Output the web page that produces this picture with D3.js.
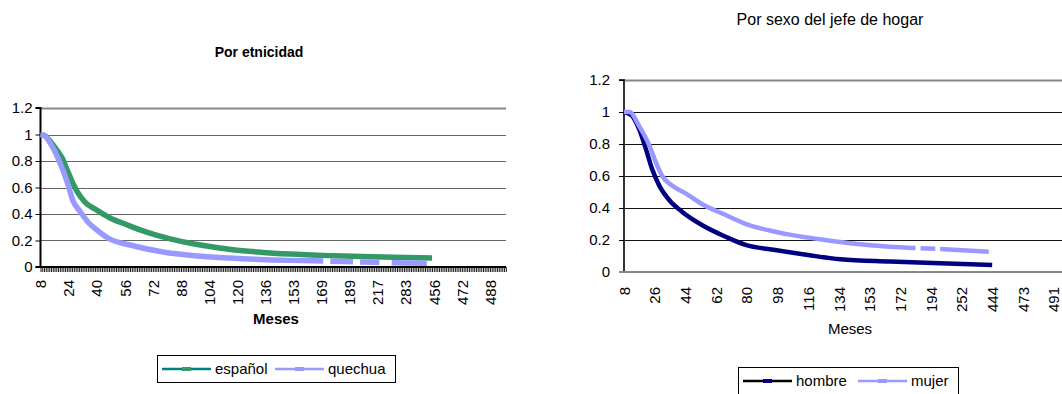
<!DOCTYPE html>
<html><head><meta charset="utf-8">
<script src="https://cdn.jsdelivr.net/npm/d3@7"></script>
<style>
body{margin:0;background:#fff;}
text{font-family:"Liberation Sans",Arial,sans-serif;fill:#000;}
</style></head>
<body><svg id="c" width="1062" height="394"></svg>
<script>
// ---------- data ----------
const yTicks = [0, 0.2, 0.4, 0.6, 0.8, 1, 1.2];
const yTickLabels = ["0", "0.2", "0.4", "0.6", "0.8", "1", "1.2"];

// Chart 1: Por etnicidad (x = category index on the months axis)
const etnTickLabels = ["8","24","40","56","72","88","104","120","136","153","169","189","217","283","456","472","488"];
const etnCatsPerLabel = 16;
const etnCatCount = 265;
const espanolIdx = [0, 2.6, 5.4, 9.4, 12.8, 15, 18.5, 20.8, 25.3, 32, 39.6, 49, 56.7, 66, 79.4, 93.7, 109.6, 125, 142, 166.5, 200.7, 223];
const espanolVal = [1, 0.99, 0.95, 0.88, 0.81, 0.74, 0.63, 0.57, 0.49, 0.43, 0.37, 0.32, 0.28, 0.24, 0.195, 0.16, 0.13, 0.112, 0.098, 0.085, 0.073, 0.068];
const quechuaIdx = [0, 2.6, 4.3, 8.3, 12.8, 15.7, 18.5, 22.5, 27, 32, 39.6, 51, 69.8, 88, 108, 142, 161, 163, 165, 178, 180, 182, 193, 196, 200, 220];
const quechuaVal = [1, 0.99, 0.96, 0.87, 0.73, 0.62, 0.5, 0.42, 0.34, 0.28, 0.21, 0.166, 0.113, 0.085, 0.068, 0.05, 0.045, null, 0.043, 0.04, null, 0.038, 0.035, null, 0.032, 0.028];

// Chart 2: Por sexo del jefe de hogar
const sexTickLabels = ["8","26","44","62","80","98","116","134","153","172","194","252","444","473","491"];
const sexCatsPerLabel = 18;
const sexCatCount = 264;
const hombreIdx = [0, 4.4, 9, 13.1, 16.6, 20.7, 26.5, 34, 45.7, 59.7, 71.3, 88.8, 108, 127, 156, 185.5, 216];
const hombreVal = [1, 0.98, 0.89, 0.76, 0.64, 0.54, 0.45, 0.377, 0.294, 0.22, 0.169, 0.1375, 0.106, 0.079, 0.065, 0.054, 0.044];
const mujerIdx = [0, 3.2, 9, 14.9, 18.9, 22.4, 28.2, 36.4, 45.7, 59.7, 73, 88.8, 98, 117.8, 137, 156, 171, 172.5, 174, 182.6, 184, 185.5, 214];
const mujerVal = [1, 1, 0.91, 0.79, 0.68, 0.6, 0.54, 0.49, 0.425, 0.356, 0.294, 0.252, 0.232, 0.2, 0.175, 0.158, 0.15, null, 0.149, 0.145, null, 0.143, 0.127];

// ---------- drawing ----------
const svg = d3.select("#c");

function zip(idx, val) { return idx.map((x, i) => ({x: x, v: val[i]})); }

function drawChart(cfg) {
  const g = svg.append("g");
  const x = d3.scaleLinear().domain([0, cfg.catCount]).range([cfg.left, cfg.right]);
  const y = d3.scaleLinear().domain([0, 1.2]).range([cfg.bottom, cfg.top]);

  // gridlines
  g.selectAll("line.grid").data(yTicks.filter(d => d > 0)).enter().append("line")
    .attr("x1", cfg.left).attr("x2", cfg.gridRight)
    .attr("y1", d => Math.round(y(d)) + 0.5).attr("y2", d => Math.round(y(d)) + 0.5)
    .attr("stroke", d => d === 1.2 ? cfg.topColor : cfg.gridColor)
    .attr("stroke-width", d => d === 1.2 ? 2 : 1);

  // y axis
  const ya = g.append("g").attr("transform", `translate(${cfg.left},0)`)
    .call(d3.axisLeft(y).tickValues(yTicks).tickFormat((d, i) => yTickLabels[i]).tickSize(5).tickPadding(cfg.yPad));
  ya.select(".domain").attr("stroke", cfg.yAxisColor).attr("stroke-width", 2).attr("d", `M-5,${y(1.2)}H0V${y(0)}`);
  ya.selectAll(".tick line").attr("stroke", "#000");
  ya.selectAll(".tick text").style("font-size", "15px").style("font-family", '"Liberation Sans",Arial,sans-serif');

  // x axis dense tick marks
  if (cfg.denseTicks) {
    const xt = g.append("g").attr("transform", `translate(0,${cfg.bottom})`)
      .call(d3.axisBottom(x).tickValues(d3.range(0, cfg.catCount + 1)).tickFormat("").tickSize(5));
    xt.select(".domain").remove();
    xt.selectAll(".tick line").attr("stroke", "#000").attr("stroke-width", 0.9);
  }
  // x axis line
  g.append("line").attr("x1", cfg.left - 5).attr("x2", cfg.gridRight)
    .attr("y1", cfg.bottom).attr("y2", cfg.bottom)
    .attr("stroke", cfg.xAxisColor).attr("stroke-width", 2);

  // x labels
  const labIdx = cfg.tickLabels.map((t, i) => i * cfg.catsPerLabel);
  const xl = g.append("g").attr("transform", `translate(0,${cfg.bottom})`)
    .call(d3.axisBottom(x).tickValues(labIdx).tickFormat((d, i) => cfg.tickLabels[i]).tickSize(0));
  xl.select(".domain").remove();
  xl.selectAll(".tick text")
    .attr("transform", "rotate(-90)")
    .attr("text-anchor", "end")
    .attr("x", -cfg.labelGap).attr("y", 0).attr("dy", "0.35em")
    .style("font-size", "15px").style("font-family", '"Liberation Sans",Arial,sans-serif');

  // series
  const line = d3.line().defined(d => d.v != null).x(d => x(d.x)).y(d => y(d.v)).curve(d3.curveMonotoneX);
  cfg.series.forEach(s => {
    g.append("path").datum(zip(s.idx, s.val)).attr("d", line)
      .attr("fill", "none").attr("stroke", s.color).attr("stroke-width", cfg.sw)
      .attr("stroke-linecap", "butt").attr("stroke-linejoin", "round");
  });

  // titles
  svg.append("text").attr("x", cfg.titleX).attr("y", cfg.titleY).attr("text-anchor", "middle")
    .style("font-size", cfg.titleSize).style("font-weight", cfg.titleWeight).text(cfg.title);
  svg.append("text").attr("x", cfg.mesesX).attr("y", cfg.mesesY).attr("text-anchor", "middle")
    .style("font-size", "15px").style("font-weight", cfg.mesesWeight).text("Meses");

  // legend
  const L = cfg.legend;
  svg.append("rect").attr("x", L.x + 0.5).attr("y", L.y + 0.5).attr("width", L.w).attr("height", L.h)
    .attr("fill", "#fff").attr("stroke", "#000").attr("stroke-width", 1);
  L.items.forEach(it => {
    svg.append("line").attr("x1", it.x).attr("x2", it.x + 49).attr("y1", L.ly).attr("y2", L.ly)
      .attr("stroke", it.lineColor).attr("stroke-width", 2.5);
    svg.append("rect").attr("x", it.x + 20).attr("y", L.ly - 2).attr("width", 9).attr("height", 4)
      .attr("fill", it.markColor);
    svg.append("text").attr("x", it.x + 53).attr("y", L.ly + 5).style("font-size", "15px").text(it.label);
  });
}

drawChart({
  left: 40.5, right: 505.8, gridRight: 506, top: 108, bottom: 267,
  catCount: etnCatCount, catsPerLabel: etnCatsPerLabel, tickLabels: etnTickLabels,
  gridColor: "#666", topColor: "#888", yAxisColor: "#000", xAxisColor: "#000",
  yPad: 3, denseTicks: true, labelGap: 13, sw: 5.5,
  series: [
    {idx: espanolIdx, val: espanolVal, color: "#339966"},
    {idx: quechuaIdx, val: quechuaVal, color: "#9999ff"}
  ],
  title: "Por etnicidad", titleX: 259, titleY: 57, titleSize: "14px", titleWeight: "bold",
  mesesX: 276, mesesY: 324, mesesWeight: "bold",
  legend: {x: 157, y: 355, w: 238, h: 27, ly: 369, items: [
    {x: 162, lineColor: "#008080", markColor: "#339966", label: "español"},
    {x: 275, lineColor: "#9999ff", markColor: "#9999ff", label: "quechua"}
  ]}
});

drawChart({
  left: 624, right: 1074, gridRight: 1062, top: 80, bottom: 272,
  catCount: sexCatCount, catsPerLabel: sexCatsPerLabel, tickLabels: sexTickLabels,
  gridColor: "#111", topColor: "#888", yAxisColor: "#333", xAxisColor: "#888",
  yPad: 9, denseTicks: false, labelGap: 15, sw: 4.5,
  series: [
    {idx: hombreIdx, val: hombreVal, color: "#000080"},
    {idx: mujerIdx, val: mujerVal, color: "#9999ff"}
  ],
  title: "Por sexo del jefe de hogar", titleX: 830, titleY: 25, titleSize: "16px", titleWeight: "normal",
  mesesX: 850, mesesY: 334, mesesWeight: "normal",
  legend: {x: 738, y: 367, w: 220, h: 30, ly: 381, items: [
    {x: 743, lineColor: "#000", markColor: "#000080", label: "hombre"},
    {x: 858, lineColor: "#9999ff", markColor: "#9999ff", label: "mujer"}
  ]}
});
</script>
</body></html>
